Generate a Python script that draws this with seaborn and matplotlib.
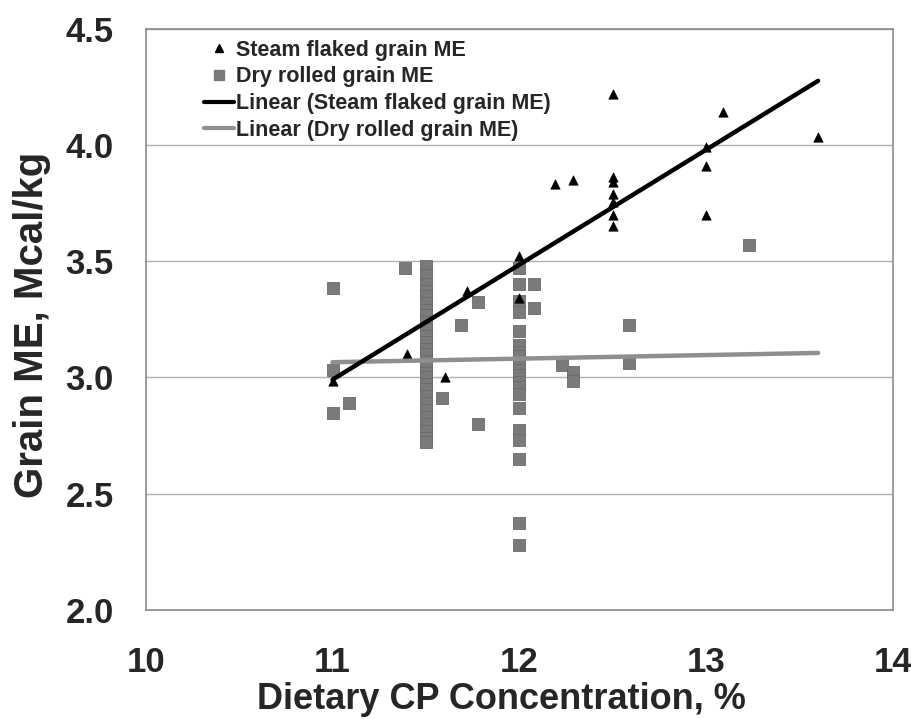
import numpy as np
import pandas as pd
import matplotlib
matplotlib.use("Agg")
import matplotlib.pyplot as plt
import seaborn as sns
from matplotlib.lines import Line2D

# ---- data ----
steam_x = [11.0, 11.4, 11.6, 11.72, 12.0, 12.0, 12.19, 12.29,
           12.5, 12.5, 12.5, 12.5, 12.5, 12.5, 12.5,
           13.0, 13.0, 13.0, 13.09, 13.6]
steam_y = [2.985, 3.10, 3.00, 3.37, 3.52, 3.34, 3.83, 3.85,
           4.22, 3.86, 3.84, 3.79, 3.755, 3.70, 3.65,
           3.99, 3.91, 3.70, 4.14, 4.035]

dry_col115 = [3.48, 3.44, 3.40, 3.37, 3.35, 3.32, 3.29, 3.27, 3.24, 3.21,
              3.18, 3.15, 3.12, 3.10, 3.07, 3.05, 3.02, 3.00, 2.97, 2.95,
              2.92, 2.89, 2.86, 2.83, 2.80, 2.77, 2.74, 2.72]
dry_col120 = [3.47, 3.40, 3.33, 3.28, 3.20, 3.14, 3.11, 3.09, 3.06, 3.03,
              3.01, 2.98, 2.96, 2.93, 2.87, 2.775, 2.73, 2.65, 2.375, 2.28]
dry_other_x = [11.0, 11.0, 11.0, 11.09, 11.39, 11.69, 11.585, 11.78, 11.78,
               12.08, 12.08, 12.23, 12.29, 12.29, 12.59, 12.59, 13.23]
dry_other_y = [3.385, 3.03, 2.845, 2.89, 3.47, 3.226, 2.91, 3.325, 2.80,
               3.40, 3.30, 3.055, 3.025, 2.985, 3.226, 3.06, 3.57]

dry_x = [11.5] * len(dry_col115) + [12.0] * len(dry_col120) + dry_other_x
dry_y = dry_col115 + dry_col120 + dry_other_y

# linear trend lines (end points)
steam_trend_x = [11.0, 13.6]
steam_trend_y = [2.99, 4.276]
dry_trend_x = [11.0, 13.6]
dry_trend_y = [3.065, 3.105]

x_ticks = [10, 11, 12, 13, 14]
y_ticks = [2.0, 2.5, 3.0, 3.5, 4.0, 4.5]

labels = ["Steam flaked grain ME", "Dry rolled grain ME",
          "Linear (Steam flaked grain ME)", "Linear (Dry rolled grain ME)"]

# ---- plot ----
sns.set_style("white")
plt.rcParams['font.family'] = ['Liberation Sans', 'DejaVu Sans']
plt.rcParams['font.weight'] = 'bold'

fig = plt.figure(figsize=(9.11, 7.19), dpi=100)
ax = fig.add_axes([0.160, 0.152, 0.820, 0.808])

steam = pd.DataFrame({"x": steam_x, "y": steam_y})
dry = pd.DataFrame({"x": dry_x, "y": dry_y})

sq_col = "#7a7a7a"
line_gray = "#8f8f8f"

sns.scatterplot(data=dry, x="x", y="y", marker="s", s=64, color=sq_col,
                edgecolor="#6a6a6a", linewidth=0.6, ax=ax, zorder=3, legend=False)
sns.scatterplot(data=steam, x="x", y="y", marker="^", s=45, color="black",
                edgecolor="black", linewidth=0.5, ax=ax, zorder=4, legend=False)
sns.lineplot(x=dry_trend_x, y=dry_trend_y, color=line_gray, lw=3.2, ax=ax, zorder=5)
sns.lineplot(x=steam_trend_x, y=steam_trend_y, color="black", lw=3.2, ax=ax, zorder=6)

ax.set_xlim(10, 14)
ax.set_ylim(2.0, 4.5)
ax.set_xticks(x_ticks)
ax.set_yticks(y_ticks)
ax.set_xticklabels([str(t) for t in x_ticks], fontsize=25, fontweight='bold')
ax.set_yticklabels([f"{t:.1f}" for t in y_ticks], fontsize=25, fontweight='bold')
ax.tick_params(axis='x', direction='out', length=6, width=1, color='#999999', pad=20)
ax.tick_params(axis='y', direction='out', length=7, width=1, color='#999999', pad=16)

ax.yaxis.grid(True, color='#b0b0b0', lw=1.0)
ax.xaxis.grid(False)
ax.set_axisbelow(True)
for sp in ax.spines.values():
    sp.set_visible(True)
    sp.set_color('#8a8a8a')
    sp.set_linewidth(1.2)

ax.set_xlabel("Dietary CP Concentration, %", fontsize=26, fontweight='bold')
ax.xaxis.set_label_coords(0.476, -0.125)
ax.set_ylabel("Grain ME, Mcal/kg", fontsize=29, fontweight='bold')
ax.yaxis.set_label_coords(-0.127, 0.49)

handles = [
    Line2D([], [], marker='^', color='black', lw=0, markersize=6),
    Line2D([], [], marker='s', color=sq_col, lw=0, markersize=7),
    Line2D([], [], color='black', lw=3),
    Line2D([], [], color=line_gray, lw=3),
]
leg = ax.legend(handles, labels, loc='upper left', bbox_to_anchor=(0.063, 1.0),
                frameon=False, prop={'weight': 'bold', 'size': 15.5},
                handlelength=1.4, handletextpad=0.1, labelspacing=0.27,
                borderaxespad=0.1)

fig.savefig("out.png", dpi=100)
